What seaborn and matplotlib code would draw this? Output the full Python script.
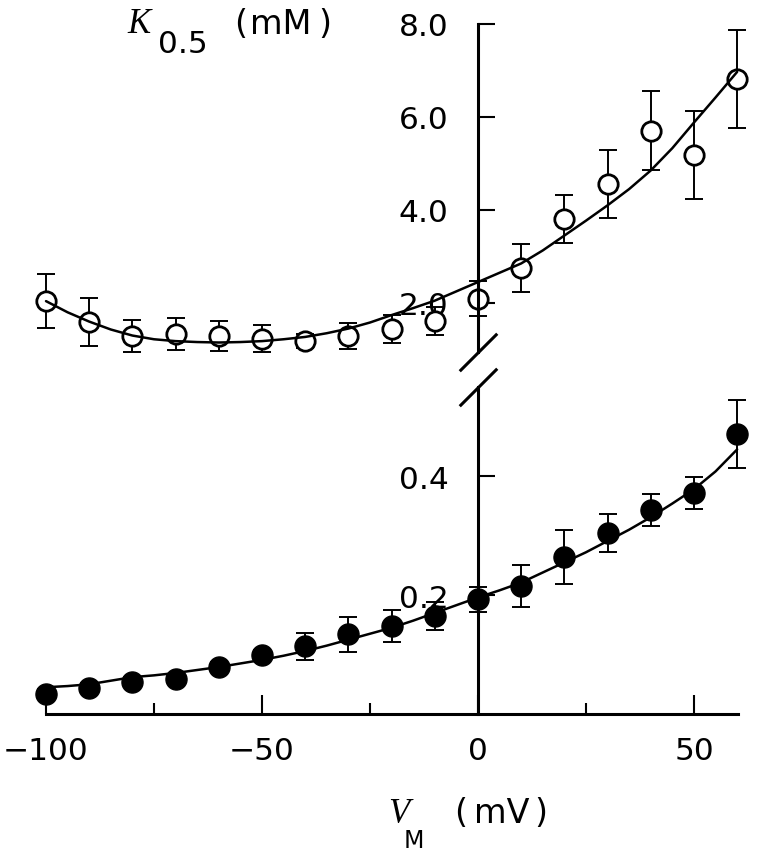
import seaborn as sns
import matplotlib.pyplot as plt

# membrane potential (mV) of the measured points
voltage = [-100, -90, -80, -70, -60, -50, -40, -30, -20, -10, 0, 10, 20, 30, 40, 50, 60]

# open circles (upper panel), K0.5 in mM
k_open = [2.04, 1.59, 1.29, 1.33, 1.29, 1.23, 1.18, 1.29, 1.44, 1.61,
          2.09, 2.75, 3.81, 4.56, 5.70, 5.18, 6.82]
k_open_err = [0.58, 0.51, 0.35, 0.34, 0.32, 0.29, 0.15, 0.29, 0.31, 0.30,
              0.38, 0.52, 0.51, 0.73, 0.85, 0.94, 1.05]

# filled circles (lower panel), K0.5 in mM
k_filled = [0.034, 0.044, 0.054, 0.059, 0.079, 0.099, 0.114, 0.134, 0.148, 0.165,
            0.193, 0.215, 0.264, 0.304, 0.343, 0.371, 0.471]
k_filled_err = [0.008, 0.008, 0.008, 0.008, 0.008, 0.008, 0.023, 0.029, 0.027, 0.023,
                0.021, 0.035, 0.045, 0.032, 0.027, 0.027, 0.057]

# fitted curves, every 5 mV
fit_v = [-100, -95, -90, -85, -80, -75, -70, -65, -60, -55, -50, -45, -40, -35, -30, -25,
         -20, -15, -10, -5, 0, 5, 10, 15, 20, 25, 30, 35, 40, 45, 50, 55, 60]
fit_open = [2.04, 1.80, 1.60, 1.43, 1.30, 1.22, 1.18, 1.16, 1.15, 1.16, 1.18, 1.22, 1.27,
            1.35, 1.45, 1.58, 1.74, 1.89, 2.05, 2.25, 2.45, 2.65, 2.85, 3.13, 3.45, 3.77,
            4.10, 4.45, 4.85, 5.33, 5.88, 6.42, 6.97]
fit_filled = [0.045, 0.047, 0.050, 0.056, 0.062, 0.065, 0.069, 0.074, 0.079, 0.085, 0.091,
              0.098, 0.106, 0.115, 0.125, 0.135, 0.145, 0.157, 0.170, 0.183, 0.196, 0.208,
              0.221, 0.238, 0.255, 0.272, 0.291, 0.310, 0.331, 0.354, 0.378, 0.408, 0.445]

x_major = [-100, -50, 0, 50]
x_minor = [-75, -25, 25]
y_hi_ticks = [2.0, 4.0, 6.0, 8.0]
y_lo_ticks = [0.2, 0.4]

sns.set_style("white")
plt.rcParams['font.family'] = ['DejaVu Sans']
plt.rcParams['text.color'] = 'black'

W, H = 757, 853
fig = plt.figure(figsize=(W / 100, H / 100), dpi=100)
ax_lo = fig.add_axes([46 / W, (H - 715) / H, 692 / W, 327 / H])
ax_hi = fig.add_axes([46 / W, (H - 353) / H, 692 / W, 328 / H])

TICK_FS = 22.5
for ax in (ax_lo, ax_hi):
    ax.set_xlim(-100, 60.2)
    ax.patch.set_alpha(0)
    ax.spines['top'].set_visible(False)
    ax.spines['right'].set_visible(False)
    ax.spines['left'].set_position(('data', 0))
    ax.spines['left'].set_linewidth(2.2)
    ax.spines['left'].set_color('black')
    ax.tick_params(axis='y', which='major', direction='in', left=True, length=12,
                   width=1.5, pad=21, labelsize=TICK_FS, colors='black')

# upper panel
ax_hi.spines['bottom'].set_visible(False)
ax_hi.set_xticks([])
ax_hi.set_ylim(0.946, 8.0)
ax_hi.set_yticks(y_hi_ticks)
ax_hi.set_yticklabels([f"{v:.1f}" for v in y_hi_ticks])

# lower panel
ax_lo.set_ylim(0, 0.55)
ax_lo.set_yticks(y_lo_ticks)
ax_lo.set_yticklabels([f"{v:.1f}" for v in y_lo_ticks])
ax_lo.set_xticks(x_major)
ax_lo.set_xticklabels([str(v).replace('-', '\u2212') for v in x_major])
ax_lo.set_xticks(x_minor, minor=True)
ax_lo.spines['bottom'].set_linewidth(2.2)
ax_lo.spines['bottom'].set_color('black')
ax_lo.tick_params(axis='x', which='major', direction='in', bottom=True, length=14,
                  width=1.5, pad=16, labelsize=TICK_FS, colors='black')
ax_lo.tick_params(axis='x', which='minor', direction='in', bottom=True, length=8,
                  width=1.5, colors='black')

# error bars
for ax, y, err in ((ax_hi, k_open, k_open_err), (ax_lo, k_filled, k_filled_err)):
    ax.errorbar(voltage, y, yerr=err, fmt='none', ecolor='black', elinewidth=1.4,
                capsize=6.5, capthick=1.4, zorder=1, clip_on=False)

# markers
sns.scatterplot(x=voltage, y=k_open, ax=ax_hi, s=195, facecolor='white',
                edgecolor='black', linewidth=2, zorder=2, clip_on=False)
sns.scatterplot(x=voltage, y=k_filled, ax=ax_lo, s=230, color='black',
                edgecolor='black', linewidth=1, zorder=2, clip_on=False)

# fitted curves
sns.lineplot(x=fit_v, y=fit_open, ax=ax_hi, color='black', linewidth=1.8,
             zorder=3, clip_on=False)
sns.lineplot(x=fit_v, y=fit_filled, ax=ax_lo, color='black', linewidth=1.8,
             zorder=3, clip_on=False)

# axis break marks
brk = dict(marker=[(-1, -1), (1, 1)], markersize=27, mew=2.2, color='black',
           linestyle='none', clip_on=False)
ax_hi.plot([0], [0], transform=ax_hi.get_xaxis_transform(), **brk)
ax_lo.plot([0], [1], transform=ax_lo.get_xaxis_transform(), **brk)


def put(txt, x, baseline, size, **kw):
    fig.text(x / W, 1 - baseline / H, txt, fontsize=size, va='baseline',
             ha='left', color='black', **kw)


UNIT_FS = 24
# y axis title: K0.5 (mM)
put('K', 127, 33, 25, family='Liberation Serif', style='italic')
put('0.5', 158, 53, TICK_FS)
put('(', 234, 34, UNIT_FS)
put('mM', 250, 34, UNIT_FS)
put(')', 318, 34, UNIT_FS)

# x axis title: VM (mV)
put('V', 388, 823, 25, family='Liberation Serif', style='italic')
put('M', 404, 848, 17)
put('(', 454, 823, UNIT_FS)
put('mV', 474, 823, UNIT_FS)
put(')', 534, 823, UNIT_FS)

fig.savefig('out.png', dpi=100, facecolor='white')
